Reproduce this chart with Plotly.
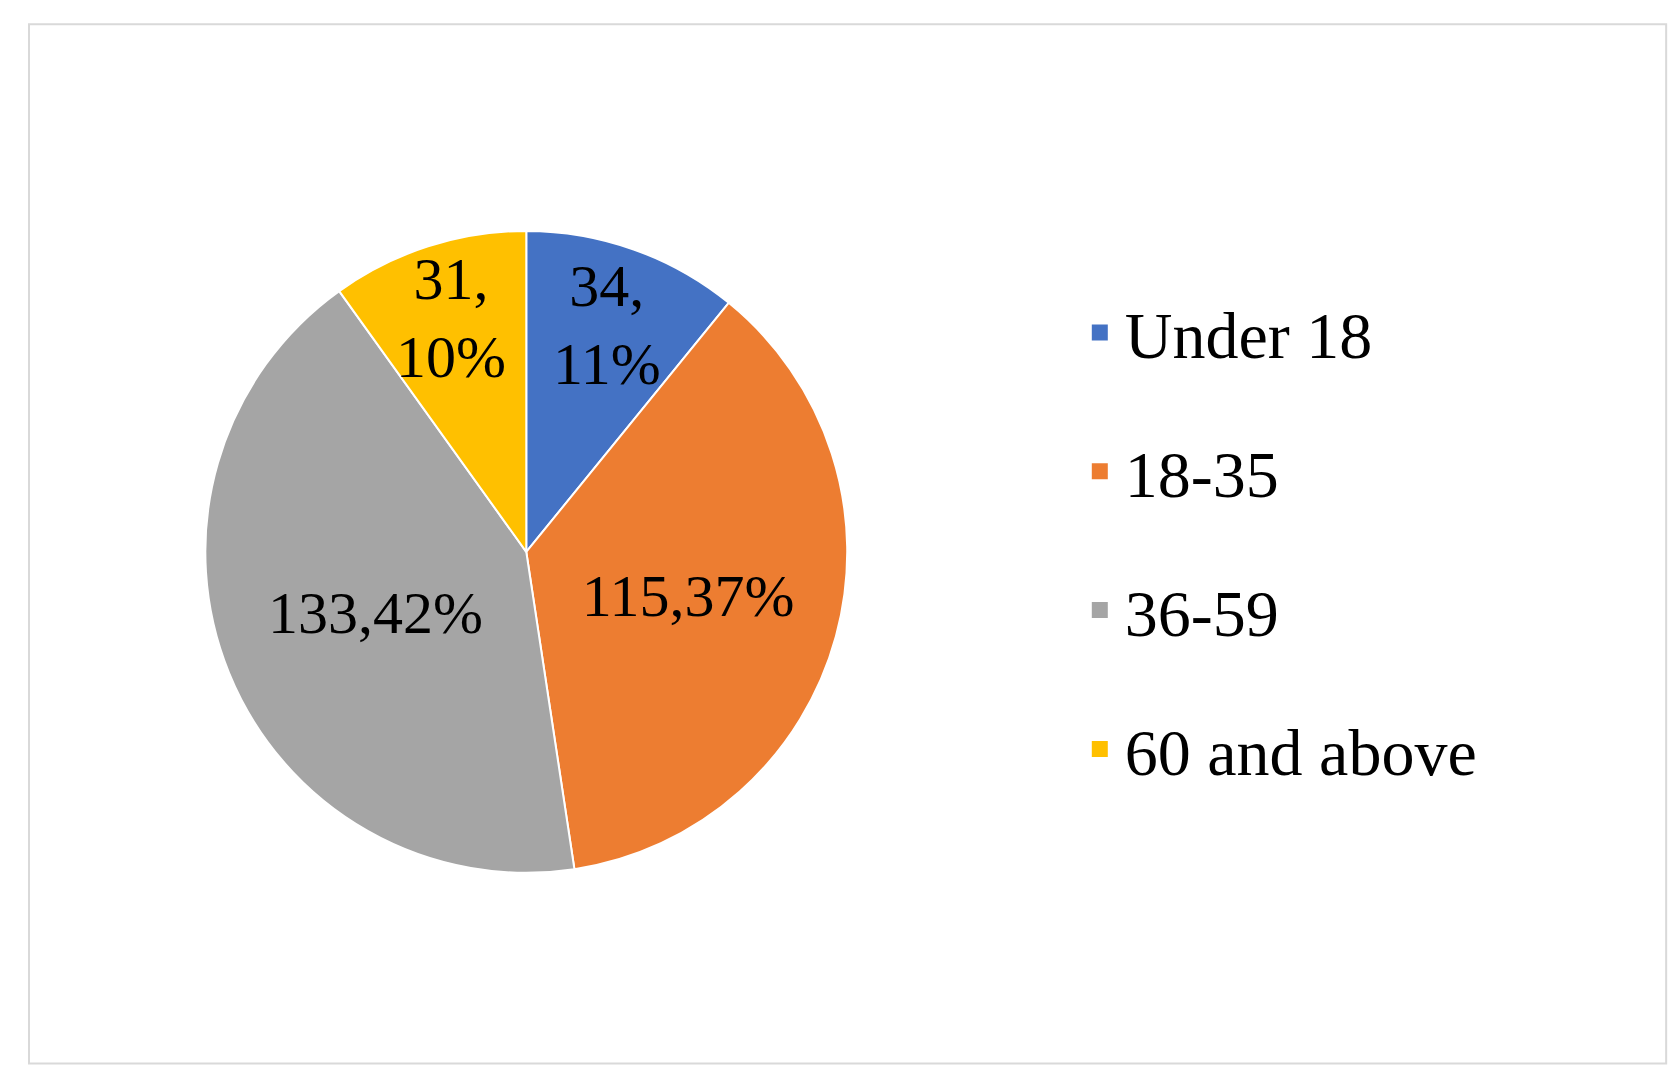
import plotly.graph_objects as go

labels = ["Under 18", "18-35", "36-59", "60 and above"]
values = [34, 115, 133, 31]
colors = ["#4472C4", "#ED7D31", "#A5A5A5", "#FFC000"]
templates = ["%{value},<br>%{percent:.0%}", "%{value},%{percent:.0%}",
             "%{value},%{percent:.0%}", "%{value},<br>%{percent:.0%}"]

fig = go.Figure(go.Pie(
    labels=labels, values=values, sort=False, direction="clockwise", rotation=0,
    marker=dict(colors=colors, line=dict(color="white", width=2)),
    texttemplate=templates, textposition="inside", insidetextorientation="horizontal",
    textfont=dict(family="Liberation Serif", size=60, color="black"),
    domain=dict(x=[0.117, 0.50], y=[0.197, 0.793]), showlegend=False,
))
for lab, col in zip(labels, colors):
    fig.add_trace(go.Scatter(x=[None], y=[None], mode="markers", name=lab, legendgroup=lab,
                             marker=dict(symbol="square", size=30, color=col)))
fig.update_layout(
    width=1680, height=1077, margin=dict(l=0, r=0, t=0, b=0),
    paper_bgcolor="white", plot_bgcolor="white",
    xaxis=dict(visible=False), yaxis=dict(visible=False),
    uniformtext=dict(minsize=60, mode="show"),
    legend=dict(x=0.635, y=0.505, xanchor="left", yanchor="middle",
                font=dict(family="Liberation Serif", size=66, color="black"),
                tracegroupgap=50, itemwidth=40),
    shapes=[dict(type="rect", xref="paper", yref="paper", x0=0.0125, x1=0.987, y0=0.02, y1=0.985,
                 line=dict(color="#D9D9D9", width=2))],
)
fig.write_html("out.html")
